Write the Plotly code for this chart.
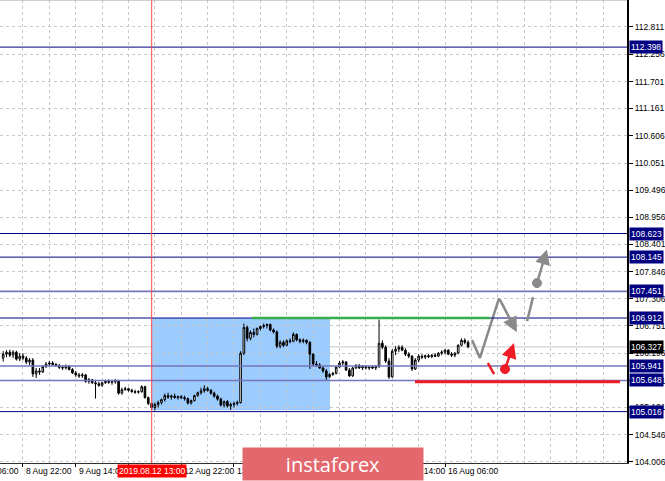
import plotly.graph_objects as go

# ---------------- data (USD/JPY H1) ----------------
opens = [106.10,106.18,106.22,106.16,106.22,106.08,106.14,106.10,106.02,106.06,
         105.78,105.84,105.82,105.93,105.98,106.00,105.97,105.95,105.91,105.90,
         105.94,105.87,105.80,105.76,105.74,105.76,105.63,105.66,105.60,105.58,
         105.55,105.60,105.63,105.61,105.62,105.64,105.39,105.46,105.48,105.45,
         105.42,105.41,105.42,105.52,105.30,105.18,105.10,105.16,105.20,105.26,
         105.34,105.31,105.33,105.30,105.32,105.30,105.28,105.19,105.24,105.34,
         105.40,105.44,105.48,105.45,105.39,105.33,105.27,105.15,105.22,105.13,
         105.16,105.18,105.20,106.20,106.72,106.50,106.62,106.58,106.70,106.74,
         106.76,106.78,106.67,106.63,106.34,106.42,106.36,106.45,106.44,106.58,
         106.47,106.44,106.46,106.42,106.18,105.98,105.96,105.90,105.84,105.72,
         105.77,105.79,105.92,106.00,106.02,105.86,105.74,105.90,105.95,105.90,
         105.93,105.90,105.92,105.90,105.93,106.40,106.32,106.04,105.72,106.24,
         106.28,106.32,106.26,106.18,106.14,105.88,106.06,106.14,106.12,106.15,
         106.13,106.16,106.14,106.20,106.22,106.26,106.18,106.16,106.20,106.36,
         106.46,106.42]
highs = [106.24,106.26,106.27,106.26,106.25,106.20,106.20,106.14,106.10,106.10,
         105.90,105.90,105.96,106.02,106.04,106.04,106.00,105.98,105.96,105.97,
         105.96,105.90,105.84,105.80,105.80,105.78,105.70,105.68,105.66,105.62,
         105.62,105.66,105.67,105.66,105.68,105.66,105.50,105.52,105.50,105.48,
         105.46,105.45,105.55,105.54,105.32,105.20,105.20,105.24,105.28,105.38,
         105.40,105.36,105.38,105.34,105.35,105.34,105.30,105.26,105.36,105.42,
         105.50,105.55,105.52,105.47,105.42,105.36,105.30,105.24,105.25,105.20,
         105.22,105.24,106.24,106.80,106.76,106.66,106.70,106.72,106.76,106.80,
         106.80,106.80,106.70,106.66,106.46,106.46,106.48,106.50,106.62,106.60,
         106.50,106.50,106.48,106.44,106.20,106.04,106.00,105.94,105.88,105.80,
         105.82,105.94,106.04,106.06,106.04,105.90,105.92,105.98,105.98,105.96,
         105.96,105.94,105.95,105.96,106.88,106.46,106.36,106.10,106.28,106.34,
         106.36,106.36,106.30,106.22,106.16,106.10,106.18,106.18,106.17,106.18,
         106.18,106.20,106.22,106.26,106.28,106.28,106.22,106.22,106.38,106.50,
         106.50,106.46]
lows = [106.03,106.12,106.12,106.10,106.05,106.04,106.06,105.98,105.96,105.72,
        105.70,105.76,105.80,105.90,105.94,105.95,105.92,105.88,105.86,105.87,
        105.85,105.78,105.72,105.70,105.70,105.60,105.58,105.58,105.28,105.52,
        105.52,105.58,105.58,105.56,105.58,105.36,105.36,105.44,105.42,105.40,
        105.38,105.38,105.40,105.28,105.15,105.06,105.04,105.10,105.16,105.22,
        105.28,105.26,105.28,105.26,105.27,105.24,105.16,105.16,105.22,105.32,
        105.36,105.40,105.42,105.36,105.30,105.24,105.12,105.10,105.10,105.05,
        105.10,105.14,105.18,106.16,106.44,106.46,106.52,106.56,106.66,106.70,
        106.70,106.64,106.60,106.30,106.30,106.32,106.34,106.40,106.42,106.44,
        106.40,106.40,106.38,105.88,105.94,105.92,105.88,105.80,105.64,105.70,
        105.74,105.77,105.90,105.96,105.84,105.72,105.72,105.88,105.88,105.86,
        105.87,105.86,105.88,105.86,105.90,106.28,106.00,105.68,105.70,106.16,
        106.22,106.24,106.14,106.10,105.84,105.86,106.02,106.08,106.08,106.10,
        106.10,106.12,106.12,106.16,106.18,106.16,106.12,106.12,106.18,106.34,
        106.38,106.30]
closes = [106.18,106.22,106.16,106.22,106.08,106.14,106.10,106.02,106.06,105.78,
          105.84,105.82,105.93,105.98,106.00,105.97,105.95,105.91,105.90,105.94,
          105.87,105.80,105.76,105.74,105.76,105.63,105.66,105.60,105.58,105.55,
          105.60,105.63,105.61,105.62,105.64,105.39,105.46,105.48,105.45,105.42,
          105.41,105.42,105.52,105.30,105.18,105.10,105.16,105.20,105.26,105.34,
          105.31,105.33,105.30,105.32,105.30,105.28,105.19,105.24,105.34,105.40,
          105.44,105.48,105.45,105.39,105.33,105.27,105.15,105.22,105.13,105.16,
          105.18,105.20,106.20,106.72,106.50,106.62,106.58,106.70,106.74,106.76,
          106.78,106.67,106.63,106.34,106.42,106.36,106.45,106.44,106.58,106.47,
          106.44,106.46,106.42,106.18,105.98,105.96,105.90,105.84,105.72,105.77,
          105.79,105.92,106.00,106.02,105.86,105.74,105.90,105.95,105.90,105.93,
          105.90,105.92,105.90,105.93,106.40,106.32,106.04,105.72,106.24,106.28,
          106.32,106.26,106.18,106.14,105.88,106.06,106.14,106.12,106.15,106.13,
          106.16,106.14,106.20,106.22,106.26,106.18,106.16,106.20,106.36,106.46,
          106.42,106.33]
bars = list(range(len(closes)))

# price scale ticks (right axis)
price_ticks = [112.811, 112.256, 111.701, 111.161, 110.606, 110.051, 109.496, 108.956,
               108.401, 107.846, 107.306, 106.751, 106.196, 105.641, 105.101, 104.546, 104.006]

# time axis labels: (bar index, text)
time_label_bars = [-10, 6, 22, 38, 54, 70, 86, 102, 118, 134]
time_label_text = ["8 Aug 06:00", "8 Aug 22:00", "9 Aug 14:00", "12 Aug 06:00", "12 Aug 22:00",
                   "13 Aug 14:00", "14 Aug 06:00", "14 Aug 22:00", "15 Aug 14:00", "16 Aug 06:00"]
grid_bars = [6 + 8 * k for k in range(24)]

# horizontal levels
levels_dark = [112.398, 108.623, 108.145, 106.912, 105.016]
levels_light = [107.451, 105.941, 105.648]
current_price = 106.327

marker_bar = 45
marker_text = "2019.08.12 13:00"

# zone / drawings (bar index, price)
zone = [45, 99.1, 105.045, 106.912]
green_line = [75.5, 147.6, 106.912]
red_line = [124.9, 187.1, 105.623]
gray_path_x = [142.2, 144.6, 150.4]
gray_path_y = [106.466, 106.105, 107.315]
gray_arrow1 = [150.4, 107.315, 155.8, 106.626]
gray_seg = [158.9, 106.849, 160.7, 107.335]
gray_dot = [161.9, 107.62]
gray_arrow2 = [161.9, 107.62, 164.9, 108.30]
red_seg = [147.0, 105.998, 148.9, 105.776]
red_dot = [152.2, 105.877]
red_arrow = [152.2, 105.877, 154.9, 106.404]

X_RANGE = [-0.971, 189.2]
Y_RANGE = [103.976, 113.352]

def to_paper_x(b):
    return (b - X_RANGE[0]) / (X_RANGE[1] - X_RANGE[0])

FONT = "Liberation Sans"
GRAY = "#8a8a8a"
RED = "#ee1c25"
NAVY = "#000080"

fig = go.Figure()
fig.add_trace(go.Candlestick(
    x=bars, open=opens, high=highs, low=lows, close=closes,
    increasing=dict(line=dict(color="black", width=1), fillcolor="white"),
    decreasing=dict(line=dict(color="black", width=1), fillcolor="black"),
    whiskerwidth=0, hoverinfo="skip", showlegend=False,
))
fig.add_trace(go.Scatter(x=gray_path_x, y=gray_path_y, mode="lines",
                         line=dict(color=GRAY, width=2.5), hoverinfo="skip", showlegend=False))

shapes = []
shapes.append(dict(type="rect", xref="x", yref="y", x0=zone[0], x1=zone[1], y0=zone[2], y1=zone[3],
                   fillcolor="#9ccbfd", line=dict(width=0), layer="below"))
shapes.append(dict(type="line", xref="paper", yref="y", x0=0, x1=1, y0=current_price, y1=current_price,
                   line=dict(color="#c8c8c8", width=1), layer="between"))
for lv in levels_dark:
    shapes.append(dict(type="line", xref="paper", yref="y", x0=0, x1=1, y0=lv, y1=lv,
                       line=dict(color=NAVY, width=1), layer="above"))
for lv in levels_light:
    shapes.append(dict(type="line", xref="paper", yref="y", x0=0, x1=1, y0=lv, y1=lv,
                       line=dict(color="#7474bf", width=1.6), layer="above"))
shapes.append(dict(type="line", xref="x", yref="paper", x0=marker_bar, x1=marker_bar, y0=0, y1=1,
                   line=dict(color="#ff4a4a", width=1.3), opacity=0.8, layer="above"))
shapes.append(dict(type="line", xref="x", yref="y", x0=green_line[0], x1=green_line[1],
                   y0=green_line[2], y1=green_line[2], line=dict(color="#35ad4a", width=2.5), layer="above"))
shapes.append(dict(type="line", xref="x", yref="y", x0=red_line[0], x1=red_line[1],
                   y0=red_line[2], y1=red_line[2], line=dict(color=RED, width=3), layer="above"))
shapes.append(dict(type="line", xref="x", yref="y", x0=gray_seg[0], y0=gray_seg[1], x1=gray_seg[2], y1=gray_seg[3],
                   line=dict(color=GRAY, width=2.5), layer="above"))
shapes.append(dict(type="line", xref="x", yref="y", x0=red_seg[0], y0=red_seg[1], x1=red_seg[2], y1=red_seg[3],
                   line=dict(color=RED, width=2.5), layer="above"))
for dot, col in [(gray_dot, GRAY), (red_dot, RED)]:
    shapes.append(dict(type="circle", xref="x", yref="y", xsizemode="pixel", ysizemode="pixel",
                       xanchor=dot[0], yanchor=dot[1], x0=-4.5, x1=4.5, y0=-4.5, y1=4.5,
                       fillcolor=col, line=dict(color=col, width=1), layer="above"))
# top border
shapes.append(dict(type="line", xref="paper", yref="paper", x0=0, x1=1, y0=1, y1=1,
                   line=dict(color="#a0a0a0", width=1), layer="above"))

annotations = []
for arr, col in [(gray_arrow1, GRAY), (gray_arrow2, GRAY), (red_arrow, RED)]:
    annotations.append(dict(x=arr[2], y=arr[3], ax=arr[0], ay=arr[1], xref="x", yref="y",
                            axref="x", ayref="y", text="", showarrow=True, arrowhead=2,
                            arrowsize=1.2, arrowwidth=2.5, arrowcolor=col, standoff=0))

# price label boxes on right scale
for lv in levels_dark + levels_light:
    annotations.append(dict(x=629 / 627, y=lv, xref="paper", yref="y", xanchor="left", yanchor="middle",
                            text=f"{lv:.3f}", showarrow=False, bgcolor=NAVY, borderpad=1,
                            font=dict(color="white", size=8.5, family=FONT)))
annotations.append(dict(x=629 / 627, y=current_price, xref="paper", yref="y", xanchor="left",
                        yanchor="middle", text=f"{current_price:.3f}", showarrow=False,
                        bgcolor="black", borderpad=1, font=dict(color="white", size=8.5, family=FONT)))

# time labels
for b, t in zip(time_label_bars, time_label_text):
    annotations.append(dict(x=to_paper_x(b), y=-8 / 463, xref="paper", yref="paper", xanchor="left",
                            yanchor="middle", text=t, showarrow=False, xshift=1,
                            font=dict(color="black", size=8.5, family=FONT)))
annotations.append(dict(x=to_paper_x(marker_bar), y=-8 / 463, xref="paper", yref="paper", xanchor="center",
                        yanchor="middle", text=marker_text, showarrow=False, bgcolor="#ff0000",
                        borderpad=1, font=dict(color="white", size=8.5, family=FONT)))
# watermark
annotations.append(dict(x=333 / 627, y=-1 / 463, xref="paper", yref="paper", xanchor="center",
                        yanchor="middle", text="instaforex", showarrow=False, width=178, height=30,
                        bgcolor="#e3686d", font=dict(color="white", size=20, family="Open Sans")))

fig.update_layout(
    width=665, height=481,
    margin=dict(l=0, r=38, t=0, b=18),
    plot_bgcolor="white", paper_bgcolor="white",
    showlegend=False,
    font=dict(family=FONT, size=8.5, color="black"),
    shapes=shapes, annotations=annotations,
    xaxis=dict(range=X_RANGE, showticklabels=False, ticks="outside", ticklen=3, tickcolor="black",
               tickvals=time_label_bars[1:], showgrid=False, zeroline=False,
               showline=True, linecolor="#303030", linewidth=1,
               minor=dict(tickvals=grid_bars, showgrid=True, gridcolor="#c8c8c8",
                          griddash="3px,3px", gridwidth=1, ticks=""),
               rangeslider=dict(visible=False), fixedrange=True),
    yaxis=dict(range=Y_RANGE, side="right", tickvals=price_ticks,
               ticktext=[f"{v:.3f}" for v in price_ticks], ticks="outside", ticklen=4,
               tickcolor="black", showgrid=True, gridcolor="#c8c8c8", griddash="3px,3px",
               zeroline=False, showline=True, linecolor="black", linewidth=2, fixedrange=True,
               tickfont=dict(size=8.5, family=FONT, color="black")),
)

fig.write_html("out.html", config={"displayModeBar": False},
               post_script="document.body.style.margin='0px';document.body.style.overflow='hidden';")
